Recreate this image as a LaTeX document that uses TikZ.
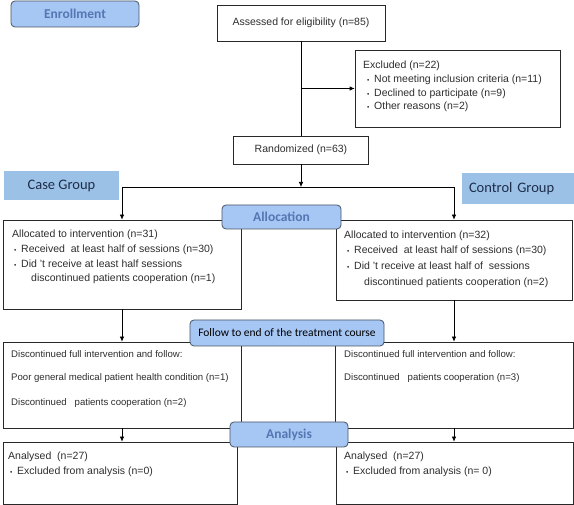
\documentclass[tikz,border=0pt]{standalone}
\usepackage{fontspec}
\setmainfont{Liberation Sans}
\newfontfamily\calfont{Carlito}
\usetikzlibrary{calc,positioning,arrows.meta}

\definecolor{lblfill}{RGB}{166,198,244}
\definecolor{lbldraw}{RGB}{72,84,100}
\definecolor{lbltext}{RGB}{84,118,178}
\definecolor{grpfill}{RGB}{155,194,230}
\definecolor{grptext}{RGB}{30,45,75}
\definecolor{boxline}{RGB}{40,40,40}
\definecolor{bodytext}{RGB}{45,45,45}
\newcommand{\bul}{\makebox[7pt][l]{\raisebox{0.6pt}{\fontsize{6.5}{6}\selectfont\textbullet}}}

\begin{document}
\begin{tikzpicture}[x=1pt,y=-1pt,
  box/.style={draw=boxline, line width=0.7pt, inner sep=0pt, text=bodytext, font=\fontsize{10.5}{12}\selectfont},
  lbl/.style={draw=lbldraw, fill=lblfill, rounded corners=4pt, line width=0.8pt, inner sep=0pt,
    text=lbltext, font=\calfont\bfseries\fontsize{13.5}{14}\selectfont},
  grp/.style={fill=grpfill, inner sep=0pt, text=grptext, font=\calfont\fontsize{14.5}{15}\selectfont},
  txt/.style={inner sep=0pt, anchor=base west, text=bodytext, font=\fontsize{10.5}{12}\selectfont},
  smalltxt/.style={txt, font=\fontsize{9.6}{12}\selectfont},
  arr/.style={-{Latex[length=5pt,width=4.5pt]}, line width=0.7pt}]
  \useasboundingbox (0,0) rectangle (574,505);

  % enrolment part
  \node[box, minimum width=168pt, minimum height=36pt] (assess) at (301,23) {Assessed for eligibility (n=85)};
  \node[box, minimum width=205pt, minimum height=77pt] (excl) at (457.5,88.5) {};
  \node[txt] (ex0) at (363,69) {Excluded (n=22)};
  \node[txt] (ex1) at (367,83) {\bul Not meeting inclusion criteria (n=11)};
  \node[txt] (ex2) at (367,97) {\bul Declined to participate (n=9)};
  \node[txt] (ex3) at (367,110) {\bul Other reasons (n=2)};
  \node[box, minimum width=135pt, minimum height=28pt] (rand) at (301,150) {Randomized (n=63)};
  \node[grp, minimum width=115pt, minimum height=29pt] (casegrp) at (61.5,185.5) {Case Group};
  \node[grp, minimum height=31pt, inner xsep=7pt, text width=98pt, align=left] (ctrlgrp) at (518,188.5) {Control Group};

  % allocation
  \node[box, minimum width=238pt, minimum height=89pt] (allocL) at (122,264.5) {};
  \node[txt] (al0) at (12,238) {Allocated to intervention (n=31)};
  \node[txt] (al1) at (14,253) {\bul Received\ \ at least half of sessions (n=30)};
  \node[txt] (al2) at (14,268) {\bul Did 't receive at least half sessions};
  \node[txt] (al3) at (31,282) {discontinued patients cooperation (n=1)};
  \node[box, minimum width=236pt, minimum height=80pt] (allocR) at (454,260) {};
  \node[txt] (ar0) at (344,239) {Allocated to intervention (n=32)};
  \node[txt] (ar1) at (347,254) {\bul Received\ \ at least half of sessions (n=30)};
  \node[txt] (ar2) at (347,270) {\bul Did 't receive at least half of\ \ sessions};
  \node[txt] (ar3) at (364,286) {discontinued patients cooperation (n=2)};

  % follow up
  \node[box, minimum width=238pt, minimum height=86pt] (followL) at (122,385) {};
  \node[smalltxt] (fl0) at (11,358) {Discontinued full intervention and follow:};
  \node[smalltxt] (fl1) at (11,381) {Poor general medical patient health condition (n=1)};
  \node[smalltxt] (fl2) at (11,406) {Discontinued\ \ \ patients cooperation (n=2)};
  \node[box, minimum width=238pt, minimum height=86pt] (followR) at (454,385) {};
  \node[smalltxt] (fr0) at (344,358) {Discontinued full intervention and follow:};
  \node[smalltxt] (fr1) at (344,381) {Discontinued\ \ \ patients cooperation (n=3)};

  % analysis
  \node[box, minimum width=234pt, minimum height=62pt] (anaL) at (120,473) {};
  \node[txt] (nl0) at (8,460) {Analysed\ \ (n=27)};
  \node[txt] (nl1) at (10,475) {\bul Excluded from analysis (n=0)};
  \node[box, minimum width=237pt, minimum height=62pt] (anaR) at (454.5,473) {};
  \node[txt] (nr0) at (344,460) {Analysed\ \ (n=27)};
  \node[txt] (nr1) at (346,475) {\bul Excluded from analysis (n=\ 0)};

  % connectors
  \coordinate (split) at (301,187);
  \draw[line width=0.7pt] (assess.south) -- (rand.north);
  \draw[arr] (assess.south |- excl.west) -- (excl.west);
  \draw[arr] (rand.south) -- (split);
  \draw[line width=0.7pt] (allocL.north |- split) -- (allocR.north |- split);
  \draw[arr] (allocL.north |- split) -- (allocL.north);
  \draw[arr] (allocR.north |- split) -- (allocR.north);
  \draw[arr] (allocL.south) -- (followL.north);
  \draw[arr] (allocR.south) -- (followR.north);
  \draw[arr] (followL.south) -- (followL.south |- anaL.north);
  \draw[arr] (followR.south) -- (followR.south |- anaR.north);

  % stage labels
  \node[lbl, minimum width=128pt, minimum height=26pt] (enrol) at (75,14) {Enrollment};
  \node[lbl, minimum width=119pt, minimum height=24pt] (alloc) at (281.5,217) {Allocation};
  \node[lbl, minimum width=194pt, minimum height=26pt, text=black,
    font=\calfont\fontsize{11.5}{12}\selectfont] (follow) at (287,333) {Follow to end of the treatment course};
  \node[lbl, minimum width=118pt, minimum height=25pt] (analysis) at (289,434.5) {Analysis};
\end{tikzpicture}
\end{document}
